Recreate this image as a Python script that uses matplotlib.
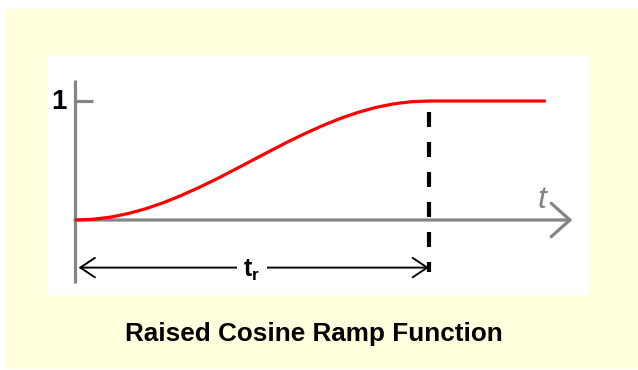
import matplotlib
matplotlib.use("Agg")
import matplotlib.pyplot as plt
from matplotlib.patches import Rectangle, FancyArrowPatch

# ---- data ----
t_ramp = [0.00, 0.05, 0.10, 0.15, 0.20, 0.25, 0.30, 0.35, 0.40, 0.45, 0.50,
          0.55, 0.60, 0.65, 0.70, 0.75, 0.80, 0.85, 0.90, 0.95, 1.00, 1.33]
y_ramp = [0.000, 0.006, 0.024, 0.054, 0.095, 0.146, 0.206, 0.273, 0.345, 0.422, 0.500,
          0.578, 0.655, 0.727, 0.794, 0.854, 0.905, 0.946, 0.976, 0.994, 1.000, 1.000]
t_rise = 1.0
y_ticks = [1]
y_tick_labels = ["1"]
title = "Raised Cosine Ramp Function"

# ---- figure ----
W, H = 638, 370
fig = plt.figure(figsize=(W / 100, H / 100), dpi=100, facecolor="white")

yellow = "#FFFFDD"
fig.add_artist(Rectangle((6 / W, 1 / H), (W - 6) / W, 360 / H,
                         transform=fig.transFigure, facecolor=yellow,
                         edgecolor="none", zorder=0))
fig.add_artist(Rectangle((47 / W, 75 / H), 542 / W, 240 / H,
                         transform=fig.transFigure, facecolor="white",
                         edgecolor="none", zorder=0))

ax = fig.add_axes([0, 0, 1, 1])
ax.set_facecolor("none")
ax.axis("off")
ax.set_xlim(-75 / 354, (W - 75) / 354)
ax.set_ylim(-(H - 220) / 119, 220 / 119)

gray = "#858585"
lw_axis = 2.3

# y axis
ax.plot([0, 0], [-0.53, 1.18], color=gray, lw=lw_axis, solid_capstyle="butt", zorder=2)
# y tick
for yt, lab in zip(y_ticks, y_tick_labels):
    ax.plot([0, 0.05], [yt, yt], color=gray, lw=lw_axis, solid_capstyle="butt", zorder=2)
    ax.text(-0.025, yt - 0.01, lab, ha="right", va="center", fontsize=20,
            fontweight="bold", family="Liberation Sans", color="black")

# x axis with open arrow head
ax.add_patch(FancyArrowPatch((0, 0), (1.405, 0), arrowstyle="->,head_length=13.5,head_width=12",
                             mutation_scale=1, color=gray, lw=lw_axis,
                             shrinkA=0, shrinkB=0, zorder=2))
ax.text(1.318, 0.165, "t", ha="center", va="center", fontsize=23, style="italic",
        family="Liberation Sans", color=gray)

# ramp curve
ax.plot(t_ramp, y_ramp, color="#FF0000", lw=2.3, solid_capstyle="butt",
        solid_joinstyle="round", zorder=3)

# dashed line at t_r
ax.plot([t_rise, t_rise], [0.91, -0.44], color="black", lw=3.0,
        linestyle=(0, (3.6, 3.6)), zorder=3)

# double-headed dimension arrow
ax.add_patch(FancyArrowPatch((0.01, -0.40), (t_rise, -0.40),
                             arrowstyle="<->,head_length=10.5,head_width=7",
                             mutation_scale=1, color="black", lw=1.4,
                             shrinkA=0, shrinkB=0, zorder=3))
plt.rcParams["mathtext.fontset"] = "custom"
plt.rcParams["mathtext.bf"] = "Liberation Sans:bold"
plt.rcParams["mathtext.rm"] = "Liberation Sans:bold"
ax.text(t_rise / 2, -0.42, r"$\mathbf{t}_\mathbf{r}$", ha="center", va="center",
        fontsize=18, color="black",
        bbox=dict(boxstyle="square,pad=0.25", facecolor="white", edgecolor="none"),
        zorder=4)

# title
fig.text(314 / W, 1 - 334 / H, title, ha="center", va="center", fontsize=18.8,
         fontweight="bold", family="Liberation Sans", color="black")

fig.savefig("out.png", dpi=100, facecolor="white")
